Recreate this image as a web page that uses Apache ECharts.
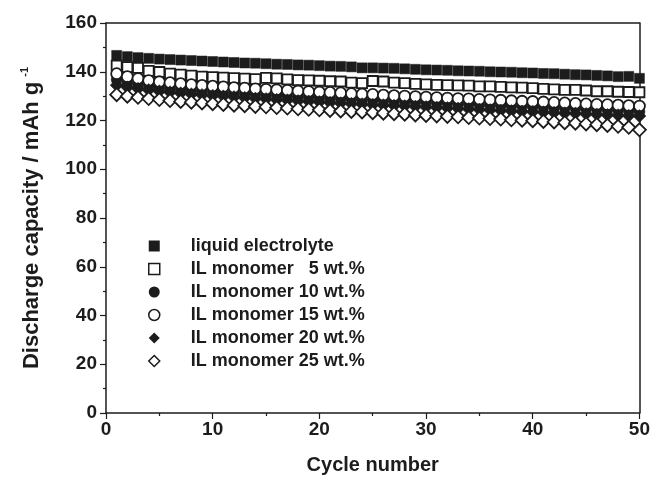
<!DOCTYPE html>
<html>
<head>
<meta charset="utf-8">
<script src="https://cdn.jsdelivr.net/npm/echarts@6/dist/echarts.min.js"></script>
<style>html,body{margin:0;padding:0;background:#fff}#c{width:653px;height:489px}</style>
</head>
<body>
<div id="c"></div>
<script>
var cycles = [1,2,3,4,5,6,7,8,9,10,11,12,13,14,15,16,17,18,19,20,21,22,23,24,25,26,27,28,29,30,31,32,33,34,35,36,37,38,39,40,41,42,43,44,45,46,47,48,49,50];
var seriesNames = ['liquid electrolyte', 'IL monomer   5 wt.%', 'IL monomer 10 wt.%', 'IL monomer 15 wt.%', 'IL monomer 20 wt.%', 'IL monomer 25 wt.%'];
var liquid = [146.7,146.2,145.8,145.5,145.2,145.0,144.8,144.6,144.4,144.2,
  144.0,143.8,143.6,143.5,143.3,143.1,143.0,142.8,142.7,142.5,
  142.3,142.2,142.0,141.6,141.6,141.5,141.4,141.2,141.0,140.8,
  140.7,140.6,140.4,140.3,140.2,140.0,139.9,139.8,139.6,139.5,
  139.3,139.2,139.0,138.8,138.7,138.5,138.3,138.0,138.1,137.3];
var il5 = [142.5,141.9,141.6,140.4,139.9,139.2,138.8,138.4,138.0,137.8,
  137.6,137.4,137.2,137.0,137.5,137.3,136.9,136.6,136.5,136.3,
  136.1,136.0,135.5,135.3,136.2,136.0,135.5,135.3,135.0,134.8,
  134.6,134.5,134.4,134.3,134.0,134.0,133.8,133.6,133.5,133.3,
  133.0,132.8,132.6,132.6,132.3,132.0,132.0,131.8,131.7,131.6];
var il10 = [136.8,135.6,134.8,134.2,133.7,133.2,132.8,132.4,132.1,131.8,
  131.5,131.2,131.0,130.8,130.5,130.3,130.0,129.8,129.6,129.4,
  129.2,129.0,128.8,128.6,128.4,128.2,128.0,127.8,127.6,127.5,
  127.3,127.1,126.9,126.7,126.6,126.4,126.2,126.0,125.9,125.7,
  125.5,125.3,125.1,125.0,124.8,124.6,124.4,124.2,124.0,123.6];
var il15 = [139.2,138.0,137.2,136.4,135.9,135.5,135.1,134.7,134.4,134.1,
  133.8,133.5,133.3,133.0,132.8,132.6,132.4,132.1,131.9,131.7,
  131.5,131.3,131.0,130.8,130.7,130.4,130.2,130.0,129.8,129.6,
  129.4,129.2,129.0,128.9,128.7,128.5,128.3,128.1,127.9,127.8,
  127.6,127.4,127.2,127.0,126.8,126.6,126.5,126.3,126.1,125.9];
var il20 = [134.5,133.6,133.0,132.5,132.0,131.6,131.2,130.8,130.5,130.2,
  129.9,129.6,129.3,129.0,128.8,128.5,128.3,128.0,127.8,127.6,
  127.3,127.1,126.9,126.7,126.5,126.3,126.1,125.9,125.7,125.5,
  125.3,125.1,124.9,124.7,124.5,124.3,124.1,123.9,123.7,123.6,
  123.4,123.2,123.0,122.9,122.7,122.5,122.3,122.2,122.0,121.8];
var il25 = [130.6,130.0,129.5,129.0,128.6,128.2,127.8,127.5,127.2,126.9,
  126.6,126.3,126.1,125.8,125.6,125.3,125.1,124.8,124.6,124.4,
  124.1,123.9,123.7,123.5,123.2,123.0,122.8,122.6,122.3,122.1,
  121.9,121.7,121.5,121.2,121.0,120.8,120.6,120.3,120.1,119.9,
  119.6,119.4,119.1,118.9,118.6,118.3,118.0,117.6,117.2,116.2];

var allData = [liquid, il5, il10, il15, il20, il25];
var symbols = ['rect', 'rect', 'circle', 'circle', 'diamond', 'diamond'];
var filled = [true, false, true, false, true, false];
var sizes = [10, 10, 11, 11, 13, 13];
var dark = '#1c1c1c';
var font = '"Liberation Sans", Arial, sans-serif';

var series = allData.map(function (vals, i) {
  return {
    name: seriesNames[i],
    type: 'scatter',
    symbol: symbols[i],
    symbolSize: sizes[i],
    itemStyle: {
      color: filled[i] ? dark : '#ffffff',
      borderColor: dark,
      borderWidth: filled[i] ? 0.5 : 1.8,
      opacity: 1
    },
    data: cycles.map(function (c, k) { return [c, vals[k]]; })
  };
});

var chart = echarts.init(document.getElementById('c'), null, {renderer: 'canvas'});
chart.setOption({
  animation: false,
  backgroundColor: '#ffffff',
  grid: {left: 106, right: 13, top: 23, bottom: 76, containLabel: false},
  legend: {
    orient: 'vertical',
    left: 143,
    top: 232,
    itemWidth: 11,
    itemHeight: 11,
    itemGap: 5,
    data: seriesNames.map(function (n, i) {
      return {name: n, icon: symbols[i], itemStyle: {borderWidth: filled[i] ? 0 : 1.5}};
    }),
    textStyle: {fontFamily: font, fontWeight: 'bold', fontSize: 18, color: dark, padding: [0, 0, 0, 26]}
  },
  xAxis: [{
    type: 'value', min: 0, max: 50, interval: 10,
    name: 'Cycle number', nameLocation: 'middle', nameGap: 42,
    nameTextStyle: {fontFamily: font, fontWeight: 'bold', fontSize: 20, color: dark},
    axisLine: {onZero: false, lineStyle: {color: dark, width: 1.5}},
    axisTick: {show: true, inside: false, length: 6, lineStyle: {color: dark, width: 1.2}},
    minorTick: {show: true, splitNumber: 2, length: 3, lineStyle: {color: dark, width: 1.2}},
    axisLabel: {fontFamily: font, fontWeight: 'bold', fontSize: 19, color: dark, margin: 7},
    splitLine: {show: false}
  }, {
    type: 'value', position: 'top', min: 0, max: 50, interval: 10,
    axisLine: {onZero: false, lineStyle: {color: dark, width: 1.5}},
    axisTick: {show: false}, axisLabel: {show: false}, splitLine: {show: false}
  }],
  yAxis: [{
    type: 'value', min: 0, max: 160, interval: 20,
    name: '{a|Discharge capacity / mAh g}{b|-1}', nameLocation: 'middle', nameGap: 61,
    nameTextStyle: {
      fontFamily: font, fontWeight: 'bold', fontSize: 22, color: dark,
      rich: {
        a: {fontFamily: font, fontWeight: 'bold', fontSize: 22, color: dark},
        b: {fontFamily: font, fontWeight: 'bold', fontSize: 11, color: dark, padding: [0, 0, 15, 5]}
      }
    },
    axisLine: {onZero: false, lineStyle: {color: dark, width: 1.5}},
    axisTick: {show: true, inside: false, length: 6, lineStyle: {color: dark, width: 1.2}},
    minorTick: {show: true, splitNumber: 2, length: 3, lineStyle: {color: dark, width: 1.2}},
    axisLabel: {fontFamily: font, fontWeight: 'bold', fontSize: 19, color: dark, margin: 9},
    splitLine: {show: false}
  }, {
    type: 'value', position: 'right', min: 0, max: 160, interval: 20,
    axisLine: {onZero: false, lineStyle: {color: dark, width: 1.5}},
    axisTick: {show: false}, axisLabel: {show: false}, splitLine: {show: false}
  }],
  series: series
});
</script>
</body>
</html>
